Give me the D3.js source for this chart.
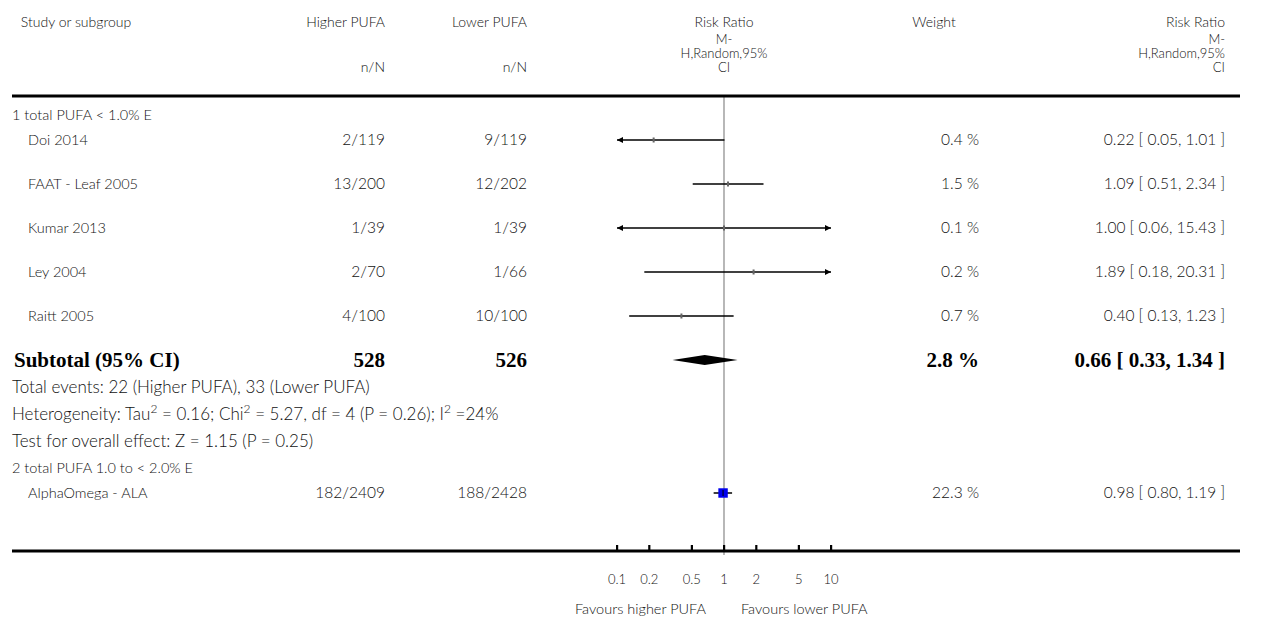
<!DOCTYPE html>
<html>
<head>
<meta charset="utf-8">
<script src="https://cdn.jsdelivr.net/npm/d3@7"></script>
<style>
  body { margin: 0; background: #fff; }
  svg text { font-family: Lato, "Open Sans", sans-serif; font-weight: 300; fill: #111; }
  svg text.bold { font-family: "Liberation Serif", "DejaVu Serif", serif; font-weight: bold; fill: #000; }
</style>
</head>
<body>
<div id="chart"></div>
<script>

// ---- data ----
var group1Label = '1 total PUFA < 1.0% E';
var group1Studies = ['Doi 2014', 'FAAT - Leaf 2005', 'Kumar 2013', 'Ley 2004', 'Raitt 2005'];
var group1Higher = ['2/119', '13/200', '1/39', '2/70', '4/100'];
var group1Lower = ['9/119', '12/202', '1/39', '1/66', '10/100'];
var group1RR = [0.22, 1.09, 1.00, 1.89, 0.40];
var group1Lo = [0.05, 0.51, 0.06, 0.18, 0.13];
var group1Hi = [1.01, 2.34, 15.43, 20.31, 1.23];
var group1Weight = [0.4, 1.5, 0.1, 0.2, 0.7];

var subtotal = {label: 'Subtotal (95% CI)', higher: '528', lower: '526', rr: 0.66, lo: 0.33, hi: 1.34, weight: 2.8};
var subtotalNotes = [
  [{t: 'Total events: 22 (Higher PUFA), 33 (Lower PUFA)'}],
  [{t: 'Heterogeneity: Tau'}, {t: '2', sup: true}, {t: ' = 0.16; Chi'}, {t: '2', sup: true}, {t: ' = 5.27, df = 4 (P = 0.26); I'}, {t: '2', sup: true}, {t: ' =24%'}],
  [{t: 'Test for overall effect: Z = 1.15 (P = 0.25)'}]
];

var group2Label = '2 total PUFA 1.0 to < 2.0% E';
var group2Studies = ['AlphaOmega - ALA'];
var group2Higher = ['182/2409'];
var group2Lower = ['188/2428'];
var group2RR = [0.98];
var group2Lo = [0.80];
var group2Hi = [1.19];
var group2Weight = [22.3];

var tickValues = [0.1, 0.2, 0.5, 1, 2, 5, 10];
var tickLabels = ['0.1', '0.2', '0.5', '1', '2', '5', '10'];
var favourLeft = 'Favours higher PUFA';
var favourRight = 'Favours lower PUFA';

// ---- layout ----
var width = 1266, height = 618;
var colStudy = 12, colStudyIndent = 28, colHigher = 385, colLower = 527, colWeight = 979, colRR = 1225;
var lineLeft = 12, lineRight = 1240;
var topLineY = 96, bottomLineY = 551;
var fsName = 14.5, fsNum = 15.5, fsNote = 17, fsBold = 21;

var svg = d3.select('#chart').append('svg')
  .attr('width', width)
  .attr('height', height);

var x = d3.scaleLog().domain([0.1, 10]).range([617, 831]);

var fmt = d3.format('.2f');
function ciText(rr, lo, hi) { return fmt(rr) + ' [ ' + fmt(lo) + ', ' + fmt(hi) + ' ]'; }

function txt(xp, yp, s, anchor, size, cls) {
  return svg.append('text')
    .attr('x', xp).attr('y', yp)
    .attr('dy', '0.35em')
    .attr('text-anchor', anchor || 'start')
    .attr('class', cls || null)
    .style('font-size', (size || 14) + 'px')
    .text(s);
}

// header
txt(76, 22, 'Study or subgroup', 'middle');
txt(colHigher, 22, 'Higher PUFA', 'end');
txt(colLower, 22, 'Lower PUFA', 'end');
txt(colHigher, 67, 'n/N', 'end');
txt(colLower, 67, 'n/N', 'end');
['Risk Ratio', 'M-', 'H,Random,95%', 'CI'].forEach(function(s, i) {
  txt(724, [22, 39, 53, 67][i], s, 'middle', i == 0 ? 14 : 13);
  txt(colRR, [22, 39, 53, 67][i], s, 'end', i == 0 ? 14 : 13);
});
txt(934, 22, 'Weight', 'middle');

// reference line at RR = 1
svg.append('line')
  .attr('x1', x(1)).attr('x2', x(1))
  .attr('y1', topLineY).attr('y2', bottomLineY + 4)
  .attr('stroke', '#888').attr('stroke-width', 1.2);

// horizontal rules
svg.append('line').attr('x1', lineLeft).attr('x2', lineRight)
  .attr('y1', topLineY).attr('y2', topLineY)
  .attr('stroke', '#000').attr('stroke-width', 3);
svg.append('line').attr('x1', lineLeft).attr('x2', lineRight)
  .attr('y1', bottomLineY).attr('y2', bottomLineY)
  .attr('stroke', '#000').attr('stroke-width', 3);

// CIs outside the axis get clipped and an arrow head
var clipLo = x.domain()[0], clipHi = x.domain()[1];

function drawStudy(y, name, hi, lo, rr, ciLo, ciHi, w) {
  txt(colStudyIndent, y, name, 'start', fsName);
  txt(colHigher, y, hi, 'end', fsNum);
  txt(colLower, y, lo, 'end', fsNum);
  txt(colWeight, y, w.toFixed(1) + ' %', 'end', fsNum);
  txt(colRR, y, ciText(rr, ciLo, ciHi), 'end', fsNum);

  var x1 = x(Math.max(ciLo, clipLo)), x2 = x(Math.min(ciHi, clipHi));
  svg.append('line')
    .attr('x1', x1).attr('x2', x2)
    .attr('y1', y).attr('y2', y)
    .attr('stroke', '#000').attr('stroke-width', 1.5);
  if (ciLo < clipLo) {
    svg.append('path')
      .attr('d', 'M' + x1 + ',' + y + 'l6,-3l0,6z')
      .attr('fill', '#000');
  }
  if (ciHi > clipHi) {
    svg.append('path')
      .attr('d', 'M' + x2 + ',' + y + 'l-6,-3l0,6z')
      .attr('fill', '#000');
  }
  var side = 2 * Math.sqrt(w);
  if (w > 5) {
    svg.append('rect')
      .attr('x', x(rr) - side / 2).attr('y', y - side / 2)
      .attr('width', side).attr('height', side)
      .attr('fill', '#0000ee');
    svg.append('line')
      .attr('x1', x(rr)).attr('x2', x(rr))
      .attr('y1', y - 3).attr('y2', y + 3)
      .attr('stroke', '#000');
  } else {
    svg.append('rect')
      .attr('x', x(rr) - 1).attr('y', y - 2.5)
      .attr('width', 2).attr('height', 5)
      .attr('fill', '#666');
  }
}

// group 1
txt(colStudy, 115, group1Label, 'start', fsName);
group1Studies.forEach(function(s, i) {
  drawStudy(140 + i * 44, s, group1Higher[i], group1Lower[i], group1RR[i], group1Lo[i], group1Hi[i], group1Weight[i]);
});

// subtotal
var subY = 360;
txt(14, subY, subtotal.label, 'start', fsBold, 'bold');
txt(colHigher, subY, subtotal.higher, 'end', fsBold, 'bold');
txt(colLower, subY, subtotal.lower, 'end', fsBold, 'bold');
txt(colWeight, subY, subtotal.weight.toFixed(1) + ' %', 'end', fsBold, 'bold');
txt(colRR, subY, ciText(subtotal.rr, subtotal.lo, subtotal.hi), 'end', fsBold, 'bold');
svg.append('path')
  .attr('d', 'M' + x(subtotal.lo) + ',' + subY +
             'L' + x(subtotal.rr) + ',' + (subY - 5) +
             'L' + x(subtotal.hi) + ',' + subY +
             'L' + x(subtotal.rr) + ',' + (subY + 5) + 'Z')
  .attr('fill', '#000');

subtotalNotes.forEach(function(parts, i) {
  var t = txt(colStudy, 387 + i * 27, '', 'start', fsNote);
  parts.forEach(function(p) {
    var sp = t.append('tspan').text(p.t);
    if (p.sup) sp.attr('baseline-shift', 'super').style('font-size', '12px');
  });
});

// group 2
txt(colStudy, 468, group2Label, 'start', fsName);
group2Studies.forEach(function(s, i) {
  drawStudy(493 + i * 44, s, group2Higher[i], group2Lower[i], group2RR[i], group2Lo[i], group2Hi[i], group2Weight[i]);
});

// axis
var axis = svg.append('g');
axis.selectAll('rect.tick')
  .data(tickValues)
  .enter().append('rect')
  .attr('x', function(d) { return x(d) - 1; })
  .attr('y', bottomLineY - 6)
  .attr('width', 2.2).attr('height', 6)
  .attr('fill', '#000');
axis.selectAll('text.ticklab')
  .data(tickValues)
  .enter().append('text')
  .attr('x', function(d) { return x(d); })
  .attr('y', 579)
  .attr('dy', '0.35em')
  .attr('text-anchor', 'middle')
  .style('font-size', '13px')
  .text(function(d, i) { return tickLabels[i]; });

txt(x(1) - 18, 609, favourLeft, 'end', 14.5);
txt(x(1) + 17, 609, favourRight, 'start', 14.5);

</script>
</body>
</html>
